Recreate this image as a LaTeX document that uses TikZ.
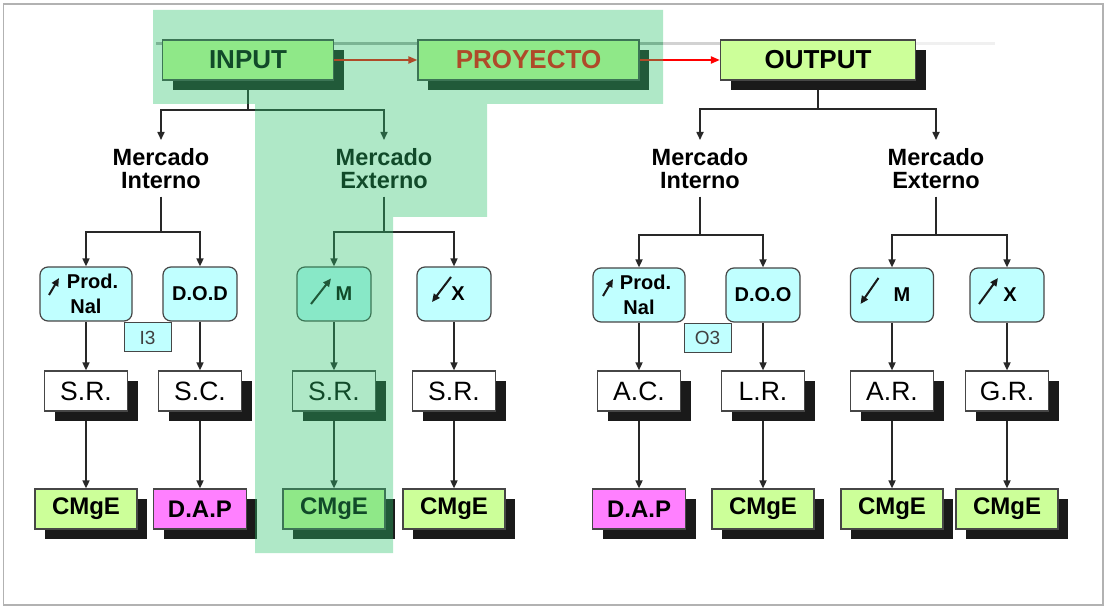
\documentclass[tikz,border=0pt]{standalone}
\usepackage{fontspec}
\setmainfont{Liberation Sans}
\usetikzlibrary{arrows.meta,shadows,calc}
\definecolor{cyanbox}{RGB}{192,255,255}
\definecolor{limebox}{RGB}{204,255,153}
\definecolor{magbox}{RGB}{255,128,255}
\definecolor{shadowc}{RGB}{26,26,26}
\definecolor{linec}{RGB}{40,40,40}
\definecolor{bordc}{RGB}{70,70,70}
\definecolor{ovl}{RGB}{45,195,110}
\pgfdeclarelayer{background}
\pgfdeclarelayer{foreground}
\pgfsetlayers{background,main,foreground}
\tikzset{
  shad/.style={drop shadow={shadow xshift=10pt, shadow yshift=-10pt, fill=shadowc, opacity=1}},
  topbox/.style={shad, draw=bordc, line width=1.2pt, fill=limebox, minimum height=40pt, inner sep=0pt, font=\fontsize{26}{26}\selectfont\bfseries},
  mercado/.style={anchor=north, align=center, inner xsep=2pt, inner ysep=8pt, font=\fontsize{23.5}{23}\selectfont\bfseries},
  cbox/.style={draw=bordc, line width=1.2pt, fill=cyanbox, rounded corners=8pt, minimum height=54pt, inner sep=0pt, align=center, font=\fontsize{20}{25}\selectfont\bfseries},
  wbox/.style={shad, draw=bordc, line width=1.2pt, fill=white, minimum width=83pt, minimum height=40pt, inner sep=0pt, font=\fontsize{26.5}{26.5}\selectfont},
  cmbox/.style={shad, draw=bordc, line width=1.2pt, fill=limebox, minimum width=102pt, minimum height=40pt, inner sep=0pt, font=\fontsize{24}{24}\selectfont\bfseries},
  dapbox/.style={cmbox, fill=magbox, minimum width=93pt},
  sbox/.style={draw=bordc, line width=1pt, fill=cyanbox, minimum width=47pt, minimum height=29pt, inner sep=0pt, text=black!75, font=\fontsize{19}{19}\selectfont},
  plain/.style={draw=linec, line width=1.6pt},
  conn/.style={plain, -{Triangle[length=8pt,width=7pt]}},
  redarr/.style={draw=red, line width=2pt, -{Triangle[length=9pt,width=7pt]}},
  glyph/.style={draw=black!90, line width=2pt, -{Triangle[length=8pt,width=7pt]}}
}
\begin{document}
\begin{tikzpicture}[x=1pt,y=-1pt]
\useasboundingbox (0,0) rectangle (1108,609);
\begin{pgfonlayer}{background}
  \fill[white] (0,0) rectangle (1108,609);
  \draw[gray!60, line width=1.6pt] (3.5,4) rectangle (1103,605);
  \draw[gray!65, line width=3pt] (156,44) -- (663,44);
  \draw[gray!35, line width=3pt] (663,44) -- (722,44);
  \draw[gray!12, line width=3pt] (915,44) -- (995,44);
\end{pgfonlayer}

% top row
\node[topbox, minimum width=171pt] (inp) at (248,60) {INPUT};
\node[topbox, minimum width=221pt, text=red] (proy) at (528.5,60) {PROYECTO};
\node[topbox, minimum width=195pt] (outp) at (818,60) {OUTPUT};

% mercado labels
\node[mercado] (mi1) at (161,140) {Mercado\\Interno};
\node[mercado] (me1) at (384,140) {Mercado\\Externo};
\node[mercado] (mi2) at (700,140) {Mercado\\Interno};
\node[mercado] (me2) at (936,140) {Mercado\\Externo};

% cyan row
\node[cbox, minimum width=92pt] (pn1) at (86,294) {\hspace*{13pt}Prod.\\Nal};
\node[cbox, minimum width=74pt] (dod) at (200,294) {D.O.D};
\node[cbox, minimum width=74pt] (mL) at (334,294) {\hspace*{20pt}M};
\node[cbox, minimum width=74pt] (xL) at (454,294) {\hspace*{8pt}X};
\node[cbox, minimum width=92pt] (pn2) at (639,295) {\hspace*{13pt}Prod.\\Nal};
\node[cbox, minimum width=74pt] (doo) at (763,295) {D.O.O};
\node[cbox, minimum width=83pt] (mR) at (892,295) {\hspace*{20pt}M};
\node[cbox, minimum width=74pt] (xR) at (1007,295) {\hspace*{6pt}X};

\node[sbox] (i3) at (147.5,337.5) {I3};
\node[sbox] (o3) at (707.5,338) {O3};

% glyph arrows
\draw[glyph] (49,295) -- (59,278);
\draw[glyph] (311,304) -- (331,278.5);
\draw[glyph] (451,277) -- (432,302);
\draw[glyph] (603,296) -- (613,279);
\draw[glyph] (878.5,278) -- (860.5,304);
\draw[glyph] (979,304) -- (998,278);

% white row
\node[wbox] (sr1) at (86,391) {S.R.};
\node[wbox] (sc) at (200,391) {S.C.};
\node[wbox] (sr2) at (334,391) {S.R.};
\node[wbox] (sr3) at (454,391) {S.R.};
\node[wbox] (ac) at (639,391) {A.C.};
\node[wbox] (lr) at (763,391) {L.R.};
\node[wbox] (ar) at (892,391) {A.R.};
\node[wbox] (gr) at (1007,391) {G.R.};

% bottom row
\node[cmbox] (cm1) at (86,509) {CMgE};
\node[dapbox] (dap1) at (200,509) {D.A.P};
\node[cmbox] (cm2) at (334,509) {CMgE};
\node[cmbox] (cm3) at (454,509) {CMgE};
\node[dapbox] (dap2) at (639,509) {D.A.P};
\node[cmbox] (cm4) at (763,509) {CMgE};
\node[cmbox] (cm5) at (892,509) {CMgE};
\node[cmbox] (cm6) at (1007,509) {CMgE};

% red arrows
\draw[redarr] (inp.east) -- (proy.west);
\draw[redarr] (proy.east) -- (outp.west);

% connectors
\begin{pgfonlayer}{background}
  \coordinate (jA) at (248,110);
  \coordinate (jB) at (818,109);
  \draw[plain] (inp.south) -- (jA);
  \draw[conn] (jA) -| (mi1.north);
  \draw[conn] (jA) -| (me1.north);
  \draw[plain] (outp.south) -- (jB);
  \draw[conn] (jB) -| (mi2.north);
  \draw[conn] (jB) -| (me2.north);

  \coordinate (j1) at (mi1.south |- 0,232);
  \coordinate (j2) at (me1.south |- 0,232);
  \coordinate (j3) at (mi2.south |- 0,235);
  \coordinate (j4) at (me2.south |- 0,235);
  \draw[plain] (mi1.south) -- (j1);
  \draw[conn] (j1) -| (pn1.north);
  \draw[conn] (j1) -| (dod.north);
  \draw[plain] (me1.south) -- (j2);
  \draw[conn] (j2) -| (mL.north);
  \draw[conn] (j2) -| (xL.north);
  \draw[plain] (mi2.south) -- (j3);
  \draw[conn] (j3) -| (pn2.north);
  \draw[conn] (j3) -| (doo.north);
  \draw[plain] (me2.south) -- (j4);
  \draw[conn] (j4) -| (mR.north);
  \draw[conn] (j4) -| (xR.north);

  \draw[conn] (pn1.south) -- (sr1.north);
  \draw[conn] (dod.south) -- (sc.north);
  \draw[conn] (mL.south) -- (sr2.north);
  \draw[conn] (xL.south) -- (sr3.north);
  \draw[conn] (pn2.south) -- (ac.north);
  \draw[conn] (doo.south) -- (lr.north);
  \draw[conn] (mR.south) -- (ar.north);
  \draw[conn] (xR.south) -- (gr.north);

  \draw[conn] (sr1.south) -- (cm1.north);
  \draw[conn] (sc.south) -- (dap1.north);
  \draw[conn] (sr2.south) -- (cm2.north);
  \draw[conn] (sr3.south) -- (cm3.north);
  \draw[conn] (ac.south) -- (dap2.north);
  \draw[conn] (lr.south) -- (cm4.north);
  \draw[conn] (ar.south) -- (cm5.north);
  \draw[conn] (gr.south) -- (cm6.north);
\end{pgfonlayer}

% translucent highlight
\begin{pgfonlayer}{foreground}
  \fill[ovl, fill opacity=0.38] (153,10) -- (663,10) -- (663,104) -- (487,104) -- (487,217) -- (393,217) -- (393,553) -- (255,553) -- (255,104) -- (153,104) -- cycle;
\end{pgfonlayer}
\end{tikzpicture}
\end{document}
